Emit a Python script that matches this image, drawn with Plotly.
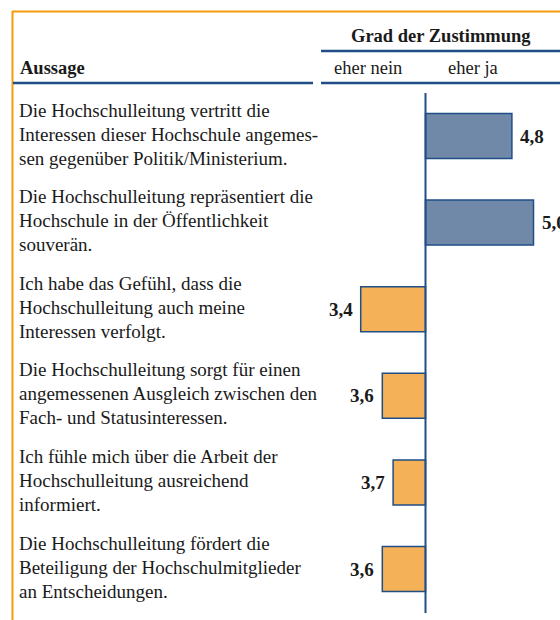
import plotly.graph_objects as go

# ---- data ----
statements = [
    ["Die Hochschulleitung vertritt die", "Interessen dieser Hochschule angemes-", "sen gegenüber Politik/Ministerium."],
    ["Die Hochschulleitung repräsentiert die", "Hochschule in der Öffentlichkeit", "souverän."],
    ["Ich habe das Gefühl, dass die", "Hochschulleitung auch meine", "Interessen verfolgt."],
    ["Die Hochschulleitung sorgt für einen", "angemessenen Ausgleich zwischen den", "Fach- und Statusinteressen."],
    ["Ich fühle mich über die Arbeit der", "Hochschulleitung ausreichend", "informiert."],
    ["Die Hochschulleitung fördert die", "Beteiligung der Hochschulmitglieder", "an Entscheidungen."],
]
values = [4.8, 5.0, 3.4, 3.6, 3.7, 3.6]
midpoint = 4.0
header_title = "Grad der Zustimmung"
header_left = "Aussage"
scale_labels = ["eher nein", "eher ja"]

# ---- layout constants (page pixels) ----
W, H = 560, 620
PX_PER_UNIT = 108.0
AXIS_PX = 425.5
ROW0 = 136.0
PITCH = 86.6
LINE_SP = 24.0

x0 = midpoint - AXIS_PX / PX_PER_UNIT
x1 = x0 + W / PX_PER_UNIT
y_top = -ROW0 / PITCH
y_bot = (H - ROW0) / PITCH

BLUE = "#1F4E86"
BAR_BLUE = "#7189A8"
BAR_ORANGE = "#F5B157"
FRAME = "#F59A0C"
TXT = "#1a1a1a"
FONT = "Liberation Serif"
FS = 19
FS_HEAD = 18.5

def px(x):
    return x / W

def py(y):
    return 1 - y / H

n = len(values)
rows = list(range(n))
colors = [BAR_BLUE if v >= midpoint else BAR_ORANGE for v in values]

fig = go.Figure()
fig.add_trace(go.Bar(
    y=rows,
    x=[v - midpoint for v in values],
    base=midpoint,
    orientation="h",
    width=0.52,
    marker=dict(color=colors, line=dict(color=BLUE, width=1.5)),
    hoverinfo="skip",
    showlegend=False,
))

annotations = []
# statement lines
for i, lines in enumerate(statements):
    for k, line in enumerate(lines):
        annotations.append(dict(
            x=px(17), xref="paper", xanchor="left",
            y=i, yref="y", yanchor="middle",
            yshift=-((k - 1) * LINE_SP - 2),
            text=line, showarrow=False,
            font=dict(family=FONT, size=FS, color=TXT),
        ))
# value labels
for i, v in enumerate(values):
    right = v >= midpoint
    annotations.append(dict(
        x=v, xref="x", y=i, yref="y",
        xanchor="left" if right else "right", yanchor="middle",
        xshift=6 if right else -6,
        text="<b>" + f"{v:.1f}".replace(".", ",") + "</b>",
        showarrow=False,
        font=dict(family=FONT, size=FS, color=TXT),
    ))
# headers
annotations.append(dict(x=px(441), xref="paper", xanchor="center", y=py(36), yref="paper", yanchor="middle",
                        text="<b>" + header_title + "</b>", showarrow=False,
                        font=dict(family=FONT, size=FS_HEAD, color=TXT)))
annotations.append(dict(x=px(18), xref="paper", xanchor="left", y=py(68), yref="paper", yanchor="middle",
                        text="<b>" + header_left + "</b>", showarrow=False,
                        font=dict(family=FONT, size=FS_HEAD, color=TXT)))
annotations.append(dict(x=px(404), xref="paper", xanchor="right", y=py(68), yref="paper", yanchor="middle",
                        text=scale_labels[0], showarrow=False,
                        font=dict(family=FONT, size=FS_HEAD, color=TXT)))
annotations.append(dict(x=px(446), xref="paper", xanchor="left", y=py(68), yref="paper", yanchor="middle",
                        text=scale_labels[1], showarrow=False,
                        font=dict(family=FONT, size=FS_HEAD, color=TXT)))

shapes = [
    # orange frame
    dict(type="line", xref="paper", yref="paper", x0=px(12), x1=px(W + 40), y0=py(11.5), y1=py(11.5),
         line=dict(color=FRAME, width=2)),
    dict(type="line", xref="paper", yref="paper", x0=px(12.5), x1=px(12.5), y0=py(11), y1=py(H + 40),
         line=dict(color=FRAME, width=2)),
    # header rules
    dict(type="line", xref="paper", yref="paper", x0=px(321), x1=px(W + 40), y0=py(51), y1=py(51),
         line=dict(color=BLUE, width=2.5)),
    dict(type="line", xref="paper", yref="paper", x0=px(13), x1=px(313), y0=py(83), y1=py(83),
         line=dict(color=BLUE, width=2.5)),
    dict(type="line", xref="paper", yref="paper", x0=px(321), x1=px(W + 40), y0=py(83), y1=py(83),
         line=dict(color=BLUE, width=2.5)),
    # midpoint axis
    dict(type="line", xref="x", yref="paper", x0=midpoint, x1=midpoint, y0=py(93), y1=py(613),
         line=dict(color=BLUE, width=2)),
]

fig.update_layout(
    width=W, height=H,
    margin=dict(l=0, r=0, t=0, b=0),
    paper_bgcolor="white", plot_bgcolor="white",
    xaxis=dict(range=[x0, x1], visible=False, fixedrange=True),
    yaxis=dict(range=[y_bot, y_top], visible=False, fixedrange=True),
    annotations=annotations,
    shapes=shapes,
    font=dict(family=FONT),
)

fig.write_html(
    "out.html",
    config={"displayModeBar": False},
    post_script="document.body.style.margin='0';document.documentElement.style.overflow='hidden';",
)
